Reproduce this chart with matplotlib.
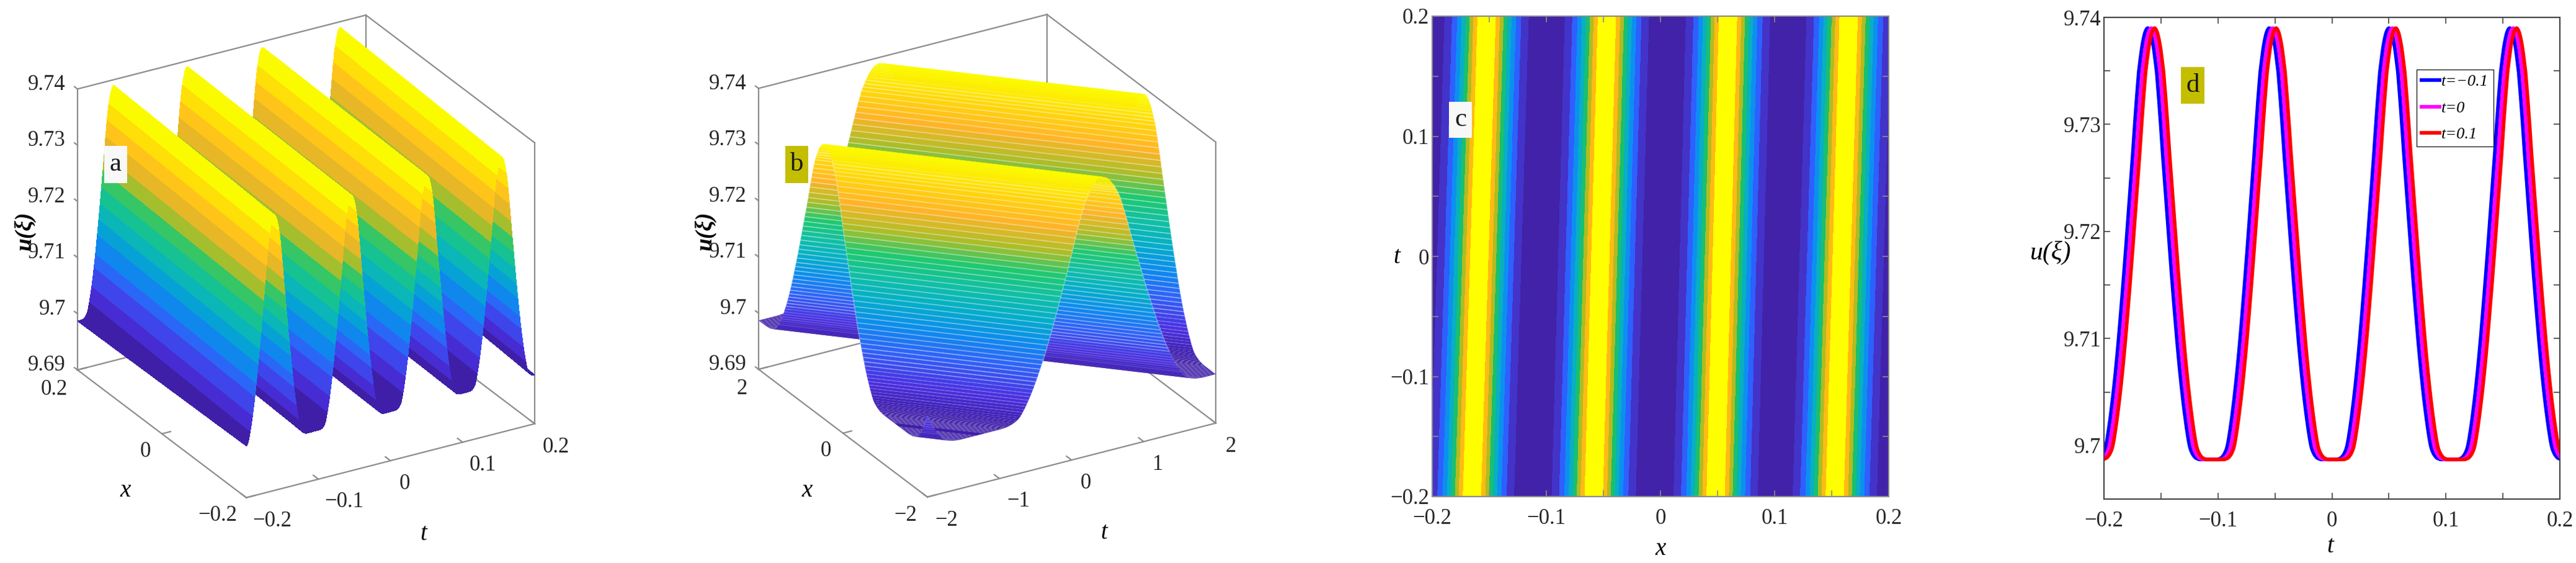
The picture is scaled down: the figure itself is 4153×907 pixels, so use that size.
import numpy as np
import matplotlib
matplotlib.use("Agg")
import matplotlib.pyplot as plt
from matplotlib.colors import LinearSegmentedColormap
from matplotlib.patches import Rectangle
from matplotlib.ticker import FixedLocator, NullFormatter
from mpl_toolkits.mplot3d import proj3d

plt.rcParams['font.family'] = ['Liberation Serif', 'DejaVu Serif']

FW, FH = 4153, 907

# one flank of the wave, peak to trough
flank_u = [9.73900, 9.73896, 9.73885, 9.73870, 9.73850, 9.73822, 9.73790, 9.73752, 9.73710,
           9.73660, 9.73605, 9.73550, 9.73490, 9.73405, 9.73320, 9.73228, 9.73135, 9.73035,
           9.72935, 9.72830, 9.72725, 9.72630, 9.72530, 9.72435, 9.72340, 9.72245, 9.72150,
           9.72055, 9.71960, 9.71865, 9.71770, 9.71680, 9.71590, 9.71500, 9.71410, 9.71325,
           9.71240, 9.71155, 9.71070, 9.70990, 9.70910, 9.70835, 9.70760, 9.70690, 9.70620,
           9.70555, 9.70490, 9.70430, 9.70370, 9.70315, 9.70260, 9.70210, 9.70160, 9.70115,
           9.70070, 9.70030, 9.69995, 9.69970, 9.69950, 9.69935, 9.69920, 9.69910, 9.69900,
           9.69892, 9.69885, 9.69881, 9.69878, 9.69875, 9.69873, 9.6987, 9.6987, 9.6987,
           9.6987, 9.6987, 9.6987, 9.6987, 9.6987, 9.6987, 9.6987, 9.6987, 9.6987]

# ridge positions
a_peaks_front = [-0.161, -0.054, 0.051, 0.154]
a_peaks_back = [-0.150, -0.048, 0.0565, 0.164]
b_peaks = [-4.95, -1.58, 1.67, 4.92]
c_peaks_bottom = [-0.1652, -0.0585, 0.0483, 0.1527]
c_peaks_top = [-0.1523, -0.0469, 0.0592, 0.1649]
d_peaks = [-0.1586, -0.052, 0.053, 0.159]
d_shift = [-0.003, 0.0, 0.003]
d_names = ['t=\u22120.1', 't=0', 't=0.1']
d_colors = ['#0000ff', '#ff00ff', '#ff0000']

u_ticks = [9.69, 9.70, 9.71, 9.72, 9.73, 9.74]
u_labels = ['9.69', '9.7', '9.71', '9.72', '9.73', '9.74']
small_ticks = [-0.2, -0.1, 0, 0.1, 0.2]
small_labels = ['\u22120.2', '\u22120.1', '0', '0.1', '0.2']
c_bands = ['#4122a8', '#4333c8', '#2e5fff', '#0c90f0', '#08b0c0', '#18c070', '#b0bc20', '#ffbb14', '#ffff00']
c_levels = [9.695, 9.700, 9.705, 9.710, 9.715, 9.720, 9.725, 9.730, 9.735, 9.74]

parula = LinearSegmentedColormap.from_list('parula_like', [
    (0.00, '#3f1fa8'), (0.10, '#4a30e0'), (0.22, '#2f62f8'), (0.32, '#0c8cec'), (0.42, '#04aec8'),
    (0.50, '#10bea8'), (0.60, '#20c870'), (0.70, '#b0bd28'), (0.80, '#ffb428'), (0.90, '#ffd60a'),
    (1.00, '#fbfb00')])

TICK_SIZE = 25


def wave(peaks, half):
    frac = np.linspace(0, 1, len(flank_u))
    us = np.array(flank_u)
    xs, ys = [], []
    for p in peaks:
        xs += list(p - half * frac[::-1]) + list(p + half * frac[1:])
        ys += list(us[::-1]) + list(us[1:])
    return np.array(xs), np.array(ys)


def clip_row(pos, u, lo, hi):
    # hold u at the last value inside the box so the strip ends on the edge
    inside = np.where((pos >= lo) & (pos <= hi))[0]
    u = u.copy()
    u[:inside[0]] = u[inside[0]]
    u[inside[-1] + 1:] = u[inside[-1]]
    return np.clip(pos, lo, hi), u


fig = plt.figure(figsize=(FW / 100, FH / 100), dpi=100)
overlay = fig.add_axes([0, 0, 1, 1], zorder=10)
overlay.set_xlim(0, FW)
overlay.set_ylim(FH, 0)
overlay.axis('off')


def add_3d(cx, cy, xlim, tlim):
    box = (538, 541, 504)
    scale = np.linalg.norm(box) / (1.8294640721620434 * 25 / 24)
    w = 1.85 * scale
    ax = fig.add_axes([(cx - 0.95 * scale) / FW, 1 - (cy + 0.95 * scale) / FH, w / FW, w / FH],
                      projection='3d', proj_type='ortho', computed_zorder=False)
    ax.view_init(elev=26.1, azim=-120.2)
    ax.set_box_aspect(box)
    ax.set_xlim(*tlim)
    ax.set_ylim(*xlim)
    ax.set_zlim(9.69, 9.74)
    ax.set_axis_off()
    ax.patch.set_alpha(0)
    return ax


def draw_box(ax, tlim, xlim, t_ticks, t_labels, x_ticks, x_labels, t_off, x_off):
    t0, t1 = tlim
    x0, x1 = xlim
    z0, z1 = 9.69, 9.74
    edges = [((t0, x0, z0), (t1, x0, z0)), ((t0, x0, z0), (t0, x1, z0)),
             ((t0, x1, z0), (t1, x1, z0)), ((t1, x0, z0), (t1, x1, z0)),
             ((t0, x1, z0), (t0, x1, z1)), ((t1, x0, z0), (t1, x0, z1)),
             ((t1, x1, z0), (t1, x1, z1)),
             ((t0, x1, z1), (t1, x1, z1)), ((t1, x0, z1), (t1, x1, z1))]
    for p, q in edges:
        ax.plot(*zip(p, q), color='#8c8c8c', lw=1.6, zorder=1)
    dt = (t1 - t0) * 0.03
    dx = (x1 - x0) * 0.03
    M = ax.get_proj()
    for k, val in enumerate(t_ticks):
        ax.plot([val, val], [x0, x0 + dx], [z0, z0], color='#8c8c8c', lw=1.6, zorder=1)
        px, py, _ = proj3d.proj_transform(val, x0, z0, M)
        ax.annotate(t_labels[k], (px, py), xytext=t_off[k], textcoords='offset pixels', ha='center',
                    va='center', fontsize=TICK_SIZE, color='#262626', annotation_clip=False)
    for k, val in enumerate(x_ticks):
        ax.plot([t0, t0 + dt], [val, val], [z0, z0], color='#8c8c8c', lw=1.6, zorder=1)
        px, py, _ = proj3d.proj_transform(t0, val, z0, M)
        ax.annotate(x_labels[k], (px, py), xytext=x_off[k], textcoords='offset pixels', ha='center',
                    va='center', fontsize=TICK_SIZE, color='#262626', annotation_clip=False)
    for k, val in enumerate(u_ticks):
        ax.plot([t0, t0], [x1, x1 + dx * 0.6], [val, val], color='#8c8c8c', lw=1.6, zorder=1)
        px, py, _ = proj3d.proj_transform(t0, x1, val, M)
        ax.annotate(u_labels[k], (px, py), xytext=(-19, 7), textcoords='offset pixels', ha='right',
                    va='center', fontsize=TICK_SIZE, color='#262626', annotation_clip=False)


def tag(x0, y0, x1, y1, letter, color):
    overlay.add_patch(Rectangle((x0, y0), x1 - x0, y1 - y0, facecolor=color, edgecolor='none'))
    overlay.text((x0 + x1) / 2, (y0 + y1) / 2, letter, ha='center', va='center', fontsize=31, color='#1a1a1a')


# panel a
ax_a = add_3d(493.5, 413, (-0.2, 0.2), (-0.2, 0.2))
t_front, u_front = wave(a_peaks_front, 0.0515)
t_back, u_back = wave(a_peaks_back, 0.0515)
t_front, u_front = clip_row(t_front, u_front, -0.2, 0.2)
t_back, u_back = clip_row(t_back, u_back, -0.2, 0.2)
draw_box(ax_a, (-0.2, 0.2), (-0.2, 0.2), small_ticks, small_labels, [-0.2, 0, 0.2], ['\u22120.2', '0', '0.2'],
         [(42, -38), (41, -37), (23, -37), (33, -37), (34, -38)], [(-46, -29), (-27, -29), (-38, -32)])
ax_a.plot_surface(np.vstack([t_front, t_back]),
                  np.vstack([np.full_like(t_front, -0.2), np.full_like(t_back, 0.2)]),
                  np.vstack([u_front, u_back]),
                  cmap=parula.resampled(14), vmin=9.6987, vmax=9.739, rstride=1, cstride=1,
                  shade=False, linewidth=0, antialiased=False, zorder=2)
overlay.text(202, 791, 'x', style='italic', fontsize=28, ha='center', va='center')
overlay.text(683, 860, 't', style='italic', fontsize=28, ha='center', va='center')
overlay.text(40, 372, 'u(\u03be)', style='italic', weight='bold', fontsize=27, rotation=90, ha='center', va='center')
tag(168, 235, 205, 295, 'a', '#f8f8f8')

# panel b
ax_b = add_3d(1591.5, 412, (-2, 2), (-2, 2))
xi, u_xi = wave(b_peaks, 1.625)
xi, u_xi = clip_row(xi, u_xi, -4, 4)
draw_box(ax_b, (-2, 2), (-2, 2), [-2, -1, 0, 1, 2], ['\u22122', '\u22121', '0', '1', '2'],
         [-2, 0, 2], ['\u22122', '0', '2'],
         [(31, -38), (30, -37), (23, -37), (23, -37), (24, -38)], [(-35, -30), (-28, -29), (-27, -32)])
surf_b = ax_b.plot_surface(np.vstack([np.clip(xi - 2, -2, 2), np.clip(xi + 2, -2, 2)]),
                           np.vstack([np.clip(xi + 2, -2, 2), np.clip(xi - 2, -2, 2)]),
                           np.vstack([u_xi, u_xi]),
                           cmap=parula, vmin=9.6987, vmax=9.739, rstride=1, cstride=1,
                           shade=False, linewidth=1.2, antialiased=True, zorder=2)
# pale lines only where the strips are far enough apart to show on screen, weaker low down
strip_u = (u_xi[:-1] + u_xi[1:]) / 2
line_alpha = np.where(np.abs(np.diff(u_xi)) > 0.00045, np.where(strip_u > 9.705, 0.3, 0.12), 0.0)
surf_b.set_edgecolor(np.column_stack([np.ones((len(line_alpha), 3)), line_alpha]))
overlay.text(1301, 791, 'x', style='italic', fontsize=28, ha='center', va='center')
overlay.text(1780, 859, 't', style='italic', fontsize=28, ha='center', va='center')
overlay.text(1137, 372, 'u(\u03be)', style='italic', weight='bold', fontsize=27, rotation=90, ha='center', va='center')
tag(1266, 235, 1303, 295, 'b', '#c4be00')


def flat_axes(x0, y0, x1, y1, edge):
    ax = fig.add_axes([x0 / FW, 1 - y1 / FH, (x1 - x0) / FW, (y1 - y0) / FH])
    ax.set_xlim(-0.2, 0.2)
    ax.set_xticks(small_ticks)
    ax.set_xticklabels(small_labels)
    ax.xaxis.set_minor_locator(FixedLocator([-0.15, -0.05, 0.05, 0.15]))
    ax.tick_params(which='both', direction='in', top=True, right=True, length=7, width=1.2,
                   color=edge, labelsize=TICK_SIZE, labelcolor='#262626')
    ax.tick_params(axis='x', pad=14)
    for s in ax.spines.values():
        s.set_color(edge)
        s.set_linewidth(1.5)
    return ax


# panel c
ax_c = flat_axes(2309, 26, 3045, 800, '#8c8c8c')
c_x_bottom, c_u_bottom = wave(c_peaks_bottom, 0.0525)
c_x_top, c_u_top = wave(c_peaks_top, 0.0525)
ax_c.contourf(np.vstack([c_x_bottom, c_x_top]),
              np.vstack([np.full_like(c_x_bottom, -0.2), np.full_like(c_x_top, 0.2)]),
              np.vstack([c_u_bottom, c_u_top]), levels=c_levels, colors=c_bands)
ax_c.set_xlim(-0.2, 0.2)
ax_c.set_ylim(-0.2, 0.2)
ax_c.set_yticks(small_ticks)
ax_c.set_yticklabels(small_labels)
ax_c.yaxis.set_minor_locator(FixedLocator([-0.15, -0.05, 0.05, 0.15]))
overlay.text(2252, 414, 't', style='italic', fontsize=28, ha='center', va='center')
overlay.text(2677, 885, 'x', style='italic', fontsize=28, ha='center', va='center')
tag(2336, 164, 2373, 222, 'c', '#f8f8f8')

# panel d
ax_d = flat_axes(3392, 28, 4127, 804, '#444444')
d_t, d_u = wave(d_peaks, 0.0525)
for k in range(3):
    ax_d.plot(d_t + d_shift[k], d_u, color=d_colors[k], lw=4.2, label=d_names[k])
ax_d.set_ylim(9.695, 9.74)
ax_d.set_yticks(u_ticks[1:])
ax_d.set_yticklabels(u_labels[1:])
ax_d.yaxis.set_minor_locator(FixedLocator([9.705, 9.715, 9.725, 9.735]))
ax_d.yaxis.set_minor_formatter(NullFormatter())
ax_d.legend(loc='upper left', bbox_to_anchor=((3896 - 3392) / 735, 1 - (112 - 28) / 776),
            prop={'style': 'italic', 'size': 19}, fancybox=False, framealpha=1, edgecolor='#222222',
            borderaxespad=0, handlelength=1.1, handletextpad=0.1, borderpad=0.3, labelspacing=0.72)
overlay.text(3306, 407, 'u(\u03be)', style='italic', fontsize=30, ha='center', va='center')
overlay.text(3757, 881, 't', style='italic', fontsize=28, ha='center', va='center')
tag(3516, 108, 3554, 167, 'd', '#c4be00')

fig.savefig('out.png', dpi=100)
